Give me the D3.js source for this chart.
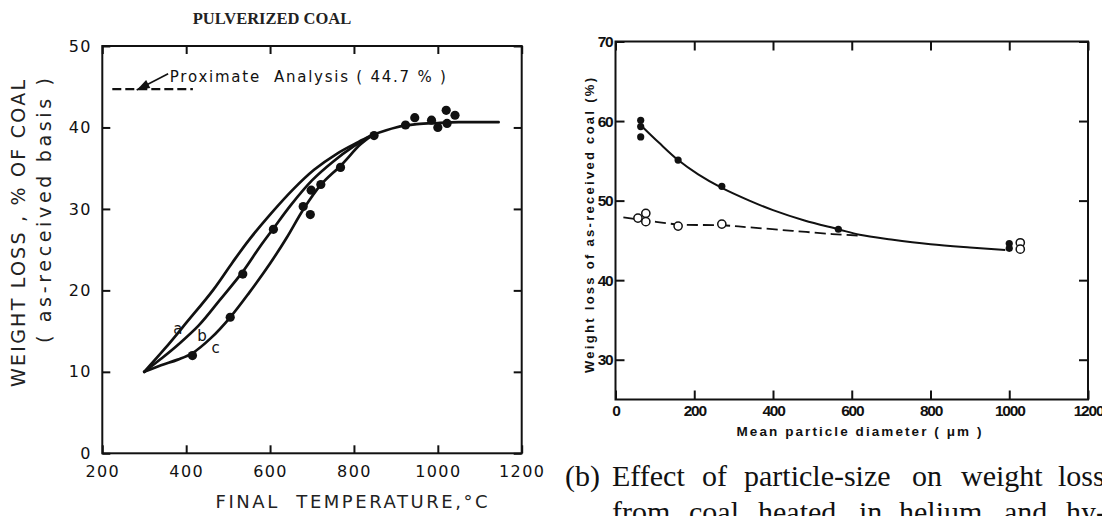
<!DOCTYPE html>
<html><head><meta charset="utf-8">
<script src="https://cdn.jsdelivr.net/npm/d3@7"></script>
<style>body{margin:0;background:#fff}svg{display:block}</style>
</head><body><svg id="c" width="1102" height="516"></svg>
<script>
// ---------- Left chart data (weight loss vs final temperature) ----------
const leftTitle = "PULVERIZED COAL";
const leftXTicks = [200, 400, 600, 800, 1000, 1200];
const leftYTicks = [0, 10, 20, 30, 40, 50];
const curveA = [[300,10],[350,12.9],[400,16.0],[465,20.1],[510,23.4],[550,26.2],[600,29.3],[655,32.4],[705,34.8],[760,36.8],[810,38.2],[845,39.1]];
const curveB = [[300,10],[340,11.6],[380,13.3],[430,15.7],[480,18.8],[535,22.3],[575,25.3],[608,27.6],[650,30.5],[700,33.5],[750,35.8],[800,37.7],[845,39.1]];
const curveC = [[300,10],[340,10.8],[380,11.5],[415,12.3],[460,14.2],[505,16.7],[550,19.7],[600,23.3],[640,26.5],[680,30.0],[720,32.9],[770,35.4],[815,37.9],[845,39.1]];
const plateau = [[845,39.1],[900,40.0],[950,40.4],[1000,40.55],[1050,40.65],[1145,40.65]];
const tempX = [415,505,535,608,679,696,698,721,768,848,923,945,985,1000,1020,1022,1041];
const tempY = [12.0,16.7,22.0,27.5,30.3,29.3,32.3,33.0,35.1,39.0,40.3,41.2,40.9,40.0,42.1,40.5,41.5];
const proximateValue = 44.7;
const proximateRange = [200, 416];
const proximateArrow = [[357,46.6],[282,44.6]];
const proximateText = "Proximate  Analysis ( 44.7 % )";
const proximateTextPos = [361, 46.3];
const curveLabels = [["a",380,15.3],["b",438,14.4],["c",470,12.9]];
const leftYLabel1 = "WEIGHT LOSS , % OF COAL";
const leftYLabel2 = "( as-received basis )";
const leftXLabel = "FINAL  TEMPERATURE,°C";

// ---------- Right chart data (weight loss vs particle diameter) ----------
const rightXTicks = [0, 200, 400, 600, 800, 1000, 1200];
const rightYTicks = [30, 40, 50, 60, 70];
const filledX = [64, 64, 64, 159, 270, 566, 1000, 1000];
const filledY = [60.1, 59.3, 58.0, 55.1, 51.8, 46.4, 44.6, 44.0];
const openX = [57, 77, 77, 159, 270, 1028, 1028];
const openY = [47.8, 48.4, 47.35, 46.8, 47.05, 44.7, 43.9];
const solidCurve = [[70,59.2],[110,57.3],[159,55.1],[210,53.3],[270,51.6],[340,50.0],[400,48.8],[480,47.5],[566,46.4],[620,45.7],[700,45.1],[800,44.5],[900,44.1],[990,43.8]];
const dashedCurve = [[20,47.9],[80,47.5],[160,47.0],[270,46.9],[350,46.6],[450,46.2],[550,45.8],[620,45.6]];
const rightYLabel = "Weight loss of as-received coal (%)";
const rightXLabel = "Mean particle diameter ( μm )";
const captionLine1 = ["(b)", "Effect", "of", "particle-size", "on", "weight", "loss"];
const captionLine2 = ["from", "coal", "heated", "in", "helium", "and", "hy-"];
const captionX1 = [565, 612, 702, 744, 912, 961, 1058];
const captionX2 = [612, 689, 758, 859, 899, 1004, 1066];

const svg = d3.select("#c");
svg.append("rect").attr("width",1102).attr("height",516).attr("fill","#fff");
const ink = "#111";
const fmt = d3.format("d");

// ================= LEFT CHART =================
const xL = d3.scaleLinear().domain([200,1200]).range([102.3,521.7]);
const yL = d3.scaleLinear().domain([0,50]).range([453.3,46]);
const lf = "'DejaVu Sans', sans-serif";

svg.append("defs").append("clipPath").attr("id","titleclip")
  .append("rect").attr("x",0).attr("y",13).attr("width",1102).attr("height",20);
svg.append("text").attr("clip-path","url(#titleclip)")
  .attr("x",272).attr("y",23.5).attr("text-anchor","middle")
  .attr("font-family","'Liberation Serif', serif").attr("font-weight","bold")
  .attr("font-size",16.5).attr("fill","#222").text(leftTitle);

function styleAxis(g, font, size, spacing, weight){
  g.select(".domain").remove();
  g.selectAll(".tick line").attr("stroke",ink).attr("stroke-width",2);
  g.selectAll(".tick text").attr("font-family",font).attr("font-size",size)
    .attr("letter-spacing",spacing).attr("font-weight",weight||"normal").attr("fill",ink);
}
styleAxis(svg.append("g").attr("transform",`translate(0,${yL(0)})`)
  .call(d3.axisBottom(xL).tickValues(leftXTicks).tickFormat(fmt).tickSize(-8).tickPadding(12)), lf, 16, 1.4);
styleAxis(svg.append("g").attr("transform",`translate(0,${yL(50)})`)
  .call(d3.axisTop(xL).tickValues(leftXTicks).tickSize(-8).tickFormat("")), lf, 16, 1.4);
styleAxis(svg.append("g").attr("transform",`translate(${xL(200)},0)`)
  .call(d3.axisLeft(yL).tickValues(leftYTicks).tickFormat(fmt).tickSize(-8).tickPadding(10.5)), lf, 16, 1.4);
styleAxis(svg.append("g").attr("transform",`translate(${xL(1200)},0)`)
  .call(d3.axisRight(yL).tickValues(leftYTicks).tickSize(-8).tickFormat("")), lf, 16, 1.4);
svg.append("rect").attr("x",xL(200)).attr("y",yL(50))
  .attr("width",xL(1200)-xL(200)).attr("height",yL(0)-yL(50))
  .attr("fill","none").attr("stroke",ink).attr("stroke-width",2);

const lineL = d3.line().x(d=>xL(d[0])).y(d=>yL(d[1])).curve(d3.curveCatmullRom.alpha(0.5));
[curveA, curveB, curveC, plateau].forEach(c=>{
  svg.append("path").attr("d",lineL(c)).attr("fill","none")
    .attr("stroke",ink).attr("stroke-width",2.7).attr("stroke-linecap","round");
});
svg.append("g").selectAll("circle").data(tempX).join("circle")
  .attr("cx",d=>xL(d)).attr("cy",(d,i)=>yL(tempY[i])).attr("r",4.6).attr("fill",ink);

// proximate analysis dashed line + arrow
svg.append("line").attr("x1",xL(proximateRange[0])+10).attr("x2",xL(proximateRange[1]))
  .attr("y1",yL(proximateValue)).attr("y2",yL(proximateValue))
  .attr("stroke",ink).attr("stroke-width",2.4).attr("stroke-dasharray","9,4");
const [at, ah] = proximateArrow;
svg.append("line").attr("x1",xL(at[0])).attr("y1",yL(at[1])).attr("x2",xL(ah[0])).attr("y2",yL(ah[1]))
  .attr("stroke",ink).attr("stroke-width",1.6);
{
  const tx=xL(ah[0]), ty=yL(ah[1]), sx=xL(at[0]), sy=yL(at[1]);
  const ang=Math.atan2(ty-sy, tx-sx), L=13, W=4.5;
  const bx=tx-L*Math.cos(ang), by=ty-L*Math.sin(ang);
  const px=-Math.sin(ang)*W, py=Math.cos(ang)*W;
  svg.append("path").attr("d",`M${tx},${ty}L${bx+px},${by+py}L${bx-px},${by-py}Z`).attr("fill",ink);
}
svg.append("text").attr("x",xL(proximateTextPos[0])).attr("y",yL(proximateTextPos[1])+5.5)
  .attr("font-family",lf).attr("font-size",15).attr("fill",ink)
  .attr("textLength",276).attr("lengthAdjust","spacing")
  .style("white-space","pre").text(proximateText);
svg.append("g").selectAll("text").data(curveLabels).join("text")
  .attr("x",d=>xL(d[1])).attr("y",d=>yL(d[2])+5).attr("text-anchor","middle")
  .attr("font-family",lf).attr("font-size",15).attr("fill",ink).text(d=>d[0]);

svg.append("text").attr("transform","translate(25,233.5) rotate(-90)").attr("text-anchor","middle")
  .attr("font-family",lf).attr("font-size",19).attr("fill","#222")
  .attr("textLength",307).attr("lengthAdjust","spacing").style("white-space","pre").text(leftYLabel1);
svg.append("text").attr("transform","translate(51,210.5) rotate(-90)").attr("text-anchor","middle")
  .attr("font-family",lf).attr("font-size",19).attr("fill","#222")
  .attr("textLength",265).attr("lengthAdjust","spacing").style("white-space","pre").text(leftYLabel2);
svg.append("text").attr("x",351.6).attr("y",508).attr("text-anchor","middle")
  .attr("font-family",lf).attr("font-size",18).attr("fill","#222")
  .attr("textLength",272).attr("lengthAdjust","spacing").style("white-space","pre").text(leftXLabel);

// ================= RIGHT CHART =================
const xR = d3.scaleLinear().domain([0,1200]).range([615.5,1088]);
const yR = d3.scaleLinear().domain([25,70]).range([399.5,41.5]);
const rf = "'Liberation Sans', Arial, sans-serif";

styleAxis(svg.append("g").attr("transform",`translate(0,${yR(25)})`)
  .call(d3.axisBottom(xR).tickValues(rightXTicks).tickFormat(fmt).tickSize(-9).tickPadding(5.5)), rf, 15.5, -1.2, "bold");
styleAxis(svg.append("g").attr("transform",`translate(0,${yR(70)})`)
  .call(d3.axisTop(xR).tickValues(rightXTicks).tickSize(-9).tickFormat("")), rf, 15.5, -1.2, "bold");
styleAxis(svg.append("g").attr("transform",`translate(${xR(0)},0)`)
  .call(d3.axisLeft(yR).tickValues(rightYTicks).tickFormat(fmt).tickSize(-9).tickPadding(3)), rf, 15.5, -1.2, "bold");
styleAxis(svg.append("g").attr("transform",`translate(${xR(1200)},0)`)
  .call(d3.axisRight(yR).tickValues(rightYTicks).tickSize(-9).tickFormat("")), rf, 15.5, -1.2, "bold");
svg.append("rect").attr("x",xR(0)).attr("y",yR(70))
  .attr("width",xR(1200)-xR(0)).attr("height",yR(25)-yR(70))
  .attr("fill","none").attr("stroke",ink).attr("stroke-width",2);

const lineR = d3.line().x(d=>xR(d[0])).y(d=>yR(d[1])).curve(d3.curveCatmullRom.alpha(0.5));
svg.append("path").attr("d",lineR(solidCurve)).attr("fill","none").attr("stroke",ink).attr("stroke-width",2);
svg.append("path").attr("d",lineR(dashedCurve)).attr("fill","none").attr("stroke",ink)
  .attr("stroke-width",1.8).attr("stroke-dasharray","11,5");
svg.append("g").selectAll("circle").data(filledX).join("circle")
  .attr("cx",d=>xR(d)).attr("cy",(d,i)=>yR(filledY[i])).attr("r",3.6).attr("fill",ink);
svg.append("g").selectAll("circle").data(openX).join("circle")
  .attr("cx",d=>xR(d)).attr("cy",(d,i)=>yR(openY[i])).attr("r",4.1)
  .attr("fill","#fff").attr("stroke",ink).attr("stroke-width",1.5);

svg.append("text").attr("transform","translate(594,225.5) rotate(-90)").attr("text-anchor","middle")
  .attr("font-family",rf).attr("font-weight","bold").attr("font-size",13).attr("fill",ink)
  .attr("textLength",295).attr("lengthAdjust","spacing").text(rightYLabel);
svg.append("text").attr("x",859).attr("y",436).attr("text-anchor","middle")
  .attr("font-family",rf).attr("font-weight","bold").attr("font-size",13.5).attr("fill",ink)
  .attr("textLength",245).attr("lengthAdjust","spacing").style("white-space","pre").text(rightXLabel);

// caption
const cf = "'Liberation Serif', 'Times New Roman', serif";
svg.append("g").selectAll("text").data(captionLine1).join("text")
  .attr("x",(d,i)=>captionX1[i]).attr("y",486).attr("font-family",cf).attr("font-size",30)
  .attr("fill","#111").text(d=>d);
svg.append("g").selectAll("text").data(captionLine2).join("text")
  .attr("x",(d,i)=>captionX2[i]).attr("y",522).attr("font-family",cf).attr("font-size",30)
  .attr("fill","#111").text(d=>d);
</script></body></html>
